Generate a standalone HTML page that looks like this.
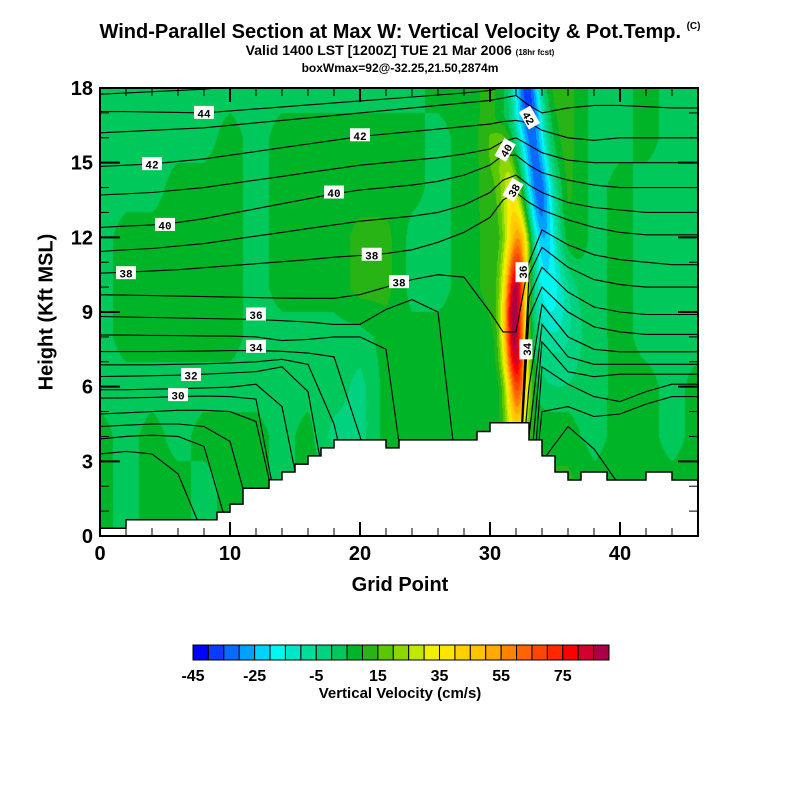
<!DOCTYPE html>
<html><head><meta charset="utf-8"><style>
body{margin:0;background:#fff;width:800px;height:800px;overflow:hidden;font-family:"Liberation Sans",sans-serif;}
#wrap{position:relative;width:800px;height:800px;}
.t{position:absolute;white-space:nowrap;color:#000;}
</style></head><body>
<div id="wrap">
<div class="t" style="left:0;width:800px;text-align:center;top:21px;font-size:20px;font-weight:bold;">Wind-Parallel Section at Max W: Vertical Velocity &amp; Pot.Temp. <span style="font-size:10px;vertical-align:top">(C)</span></div>
<div class="t" style="left:0;width:800px;text-align:center;top:42px;font-size:14px;font-weight:bold;">Valid 1400 LST [1200Z] TUE 21 Mar 2006 <span style="font-size:8px">(18hr fcst)</span></div>
<div class="t" style="left:0;width:800px;text-align:center;top:61px;font-size:12px;font-weight:bold;">boxWmax=92@-32.25,21.50,2874m</div>
<canvas id="field" width="598" height="448" style="position:absolute;left:100px;top:88px;"></canvas>
<svg id="svg" width="800" height="800" style="position:absolute;left:0;top:0;"></svg>
<div class="t" style="left:0;width:800px;text-align:center;top:574px;font-size:20px;font-weight:bold;">Grid Point</div>
<div class="t" style="left:47px;top:312px;font-size:20px;font-weight:bold;transform:translate(-50%,-50%) rotate(-90deg);">Height (Kft MSL)</div>
<div class="t" style="left:0;width:800px;text-align:center;top:685px;font-size:15px;font-weight:bold;">Vertical Velocity (cm/s)</div>
</div>
<script>
// ---------- data ----------
const bgXs = [0,2,4,6,8,10,12,14,16,18,20,22,24,26,28,30,32,34,36,38,40,42,44,46];
const bgZs = [0,2,4,6,8,10,12,14,16,18];
const L=3, D=7, T=-2, Y=12;
const bgRows = [
 [D,L,D,D,L,D,D,D,D,D,D,D,D,D,D,D,Y,Y,Y,D,D,D,D,D],
 [D,L,D,D,L,D,D,L,D,D,D,D,D,D,D,D,Y,Y,Y,D,D,D,D,D],
 [D,L,D,L,D,D,D,L,D,T,T,D,D,D,D,D,Y,D,D,L,D,D,L,D],
 [L,L,L,L,L,L,L,L,L,L,T,D,D,D,D,D,L,L,L,L,D,D,L,D],
 [L,D,D,D,D,D,L,L,L,L,L,D,D,D,D,D,L,L,L,L,D,L,L,L],
 [L,D,D,D,D,D,L,D,D,D,Y,Y,L,L,D,Y,L,L,L,L,D,L,L,L],
 [L,D,D,D,D,D,L,D,D,D,Y,Y,L,L,D,Y,L,L,Y,L,D,L,L,L],
 [L,L,L,D,D,D,L,D,D,D,D,D,D,L,D,Y,L,L,Y,L,D,L,L,L],
 [L,L,L,L,L,D,L,D,D,D,D,D,D,L,D,Y,L,Y,Y,L,L,D,L,L],
 [L,L,L,L,L,L,L,L,L,L,L,L,L,D,D,Y,L,Y,Y,L,L,D,L,L]
];
const upZ    = [4,5,6,7,8,9,10,11,12,13,14,15,16];
const upX    = [32.0,32.1,32.1,32.0,31.9,31.9,32.0,32.1,32.2,32.0,31.8,31.5,31.2];
const upPeak = [20,45,65,80,85,88,85,70,55,40,28,18,10];
const upW    = [0.6,0.6,0.62,0.65,0.65,0.65,0.65,0.68,0.7,0.72,0.75,0.8,0.85];
const dnZ    = [6,7,8,9,10,11,12,13,14,15,16,17,18];
const dnX    = [35.3,35.1,34.9,34.7,34.5,34.3,34.1,33.9,33.7,33.5,33.3,33.1,32.9];
const dnPeak = [-3,-6,-12,-18,-22,-25,-30,-35,-38,-40,-42,-45,-45];
const dnW    = [1.5,1.4,1.3,1.2,1.1,1.0,0.95,0.9,0.9,0.85,0.85,0.8,0.75];

const cXs = [0,2,4,6,8,10,12,14,16,18,20,22,24,26,28,30,31,32,33,34,36,38,40,42,44,46];
const th45=[17.75,17.8,17.85,17.9,17.95,18.05,18.15,18.25,18.35,18.45,18.55,18.65,18.75,18.85,18.95,19,19,19,19,19,19,19,19,19,19,19];
const th44=[17.05,17.05,17.03,17.02,17.0,17.08,17.16,17.24,17.32,17.4,17.48,17.56,17.64,17.72,17.8,17.9,18.05,18.2,18.3,18.3,18.5,19,19,19,19,19];
const th43=[16.2,16.25,16.3,16.35,16.4,16.5,16.6,16.7,16.8,16.9,17.0,17.1,17.2,17.3,17.4,17.5,17.6,17.7,17.3,17.0,17.2,17.3,17.3,17.25,17.2,17.2];
const th42=[14.85,14.9,14.95,15.05,15.15,15.3,15.45,15.6,15.75,15.9,16.05,16.15,16.25,16.35,16.45,16.55,16.65,16.7,16.6,16.3,16.0,15.9,16.0,16.0,16.0,16.0];
const th41=[13.7,13.75,13.8,13.9,14.0,14.15,14.3,14.45,14.6,14.75,14.9,15.0,15.1,15.2,15.35,15.55,15.85,16.0,15.7,15.4,15.1,15.0,15.0,15.0,15.0,15.0];
const th40=[12.4,12.45,12.5,12.6,12.75,12.95,13.15,13.35,13.55,13.75,13.9,14.0,14.1,14.25,14.5,14.9,15.3,15.3,14.9,14.6,14.3,14.1,14.0,14.0,14.0,14.0];
const th39=[11.43,11.5,11.55,11.65,11.75,11.9,12.05,12.2,12.35,12.5,12.65,12.75,12.85,13.0,13.3,13.8,14.3,14.5,14.1,13.8,13.4,13.2,13.1,13.0,13.0,13.0];
const th38=[10.56,10.6,10.65,10.7,10.78,10.86,10.94,11.02,11.1,11.2,11.27,11.35,11.5,11.8,12.2,12.8,13.5,13.8,13.4,13.1,12.7,12.4,12.2,12.1,12.1,12.1];
const th37=[9.69,9.68,9.66,9.64,9.62,9.6,9.58,9.56,9.55,9.55,9.7,10.0,10.3,10.5,10.4,9.0,8.2,8.2,11.0,12.3,11.7,11.3,11.1,11.0,10.9,10.9];
const th36=[8.82,8.8,8.78,8.76,8.74,8.72,8.7,8.65,8.6,8.5,8.5,9.1,9.5,9.0,0,0,0,0,10.5,11.6,10.8,10.3,10.1,10.0,10.0,10.0];
const th35=[8.08,8.07,8.06,8.05,8.04,8.03,8.0,7.85,7.9,8.0,8.0,7.5,0,0,0,0,0,0,9.6,10.8,9.8,9.2,9.0,8.9,8.9,8.9];
const th34=[7.41,7.41,7.41,7.42,7.43,7.45,7.45,7.42,7.35,7.2,4.0,0,0,0,0,0,0,0,8.8,10.0,9.0,8.4,8.2,8.1,8.1,8.1];
const th33=[6.88,6.88,6.88,6.9,6.92,6.95,7.0,7.1,6.9,4.5,0,0,0,0,0,0,0,0,6.0,9.3,8.0,7.5,7.4,7.4,7.4,7.4];
const th32=[6.41,6.42,6.44,6.46,6.5,6.55,6.6,6.8,5.8,0,0,0,0,0,0,0,0,0,4.0,8.5,7.2,6.9,6.9,6.9,6.9,6.9];
const th31=[5.88,5.88,5.9,5.92,5.95,5.98,6.1,5.2,0,0,0,0,0,0,0,0,0,0,2.0,7.8,6.6,6.4,6.5,6.5,6.5,6.5];
const th30=[5.54,5.55,5.57,5.6,5.62,5.6,5.5,0,0,0,0,0,0,0,0,0,0,0,0,6.8,6.1,5.6,5.4,5.8,6.1,6.1];
const th29=[4.9,4.95,5.0,5.05,5.05,5.0,4.6,0,0,0,0,0,0,0,0,0,0,0,0,5.0,5.2,4.8,4.9,5.3,5.6,5.6];
const th28=[4.4,4.45,4.5,4.5,4.4,3.8,0,0,0,0,0,0,0,0,0,0,0,0,0,3.0,4.4,3.5,2.0,0,0,0];
const th27=[3.9,4.0,4.05,4.0,3.6,0,0,0,0,0,0,0,0,0,0,0,0,0,0,0,0,0,0,0,0,0];
const th26=[3.3,3.4,3.3,2.5,0,0,0,0,0,0,0,0,0,0,0,0,0,0,0,0,0,0,0,0,0,0];
const thetaLines=[th45,th44,th43,th42,th41,th40,th39,th38,th37,th36,th35,th34,th33,th32,th31,th30,th29,th28,th27,th26];

const terrX = [0,2,9,10,11,13,14,15,16,17,18,22,23,29,30,33,34,35,36,37,39,42,44];
const terrH = [0.31,0.65,0.96,1.28,1.92,2.26,2.57,2.89,3.22,3.54,3.86,3.54,3.86,4.2,4.55,3.86,3.22,2.57,2.25,2.57,2.25,2.57,2.25];

const labelText=['44','42','42','40','40','38','38','38','36','34','32','30'];
const labelX   =[8,20,4,18,5,2,20.9,23,12,12,7,6];
const labelZ   =[17.0,16.1,14.94,13.8,12.5,10.56,11.3,10.2,8.9,7.6,6.47,5.66];
const rotText=['42','40','38','36','34'];
const rotX=[33.0,31.2,31.8,32.5,32.8];
const rotZ=[16.8,15.5,13.9,10.6,7.5];
const rotA=[60,-60,-60,-90,-90];

const cbColors=['#0000ff','#0a3cff','#0a6cff','#00a0ff','#00d2ff','#00f8f0','#00e6c8','#00dc9a','#00d280','#00c85a','#00b428','#28b414','#5ac800','#8cd700','#c0e800','#f0f000','#ffe600','#ffd000','#ffc400','#ffaa00','#ff8200','#ff6400','#ff4600','#ff2800','#ff0000','#d2002d','#aa0046'];
const cbMin=-45, cbStep=5;
const cbTicks=[-45,-25,-5,15,35,55,75];
const xTicks=[0,10,20,30,40];
const yTicks=[0,3,6,9,12,15,18];

// ---------- scales ----------
const PX0=100,PX1=698,PY0=88,PY1=536,XMAX=46,ZMAX=18;
const sx=x=>PX0+x/XMAX*(PX1-PX0);
const sy=z=>PY1-z/ZMAX*(PY1-PY0);

function interp(arrX,arrV,x){
  if(x<=arrX[0])return arrV[0];
  for(let i=1;i<arrX.length;i++){ if(x<=arrX[i]){const t=(x-arrX[i-1])/(arrX[i]-arrX[i-1]);return arrV[i-1]+t*(arrV[i]-arrV[i-1]);} }
  return arrV[arrV.length-1];
}
function fade(arrZ,z){const a=arrZ[0],b=arrZ[arrZ.length-1];if(z<a)return Math.max(0,1-(a-z)/0.8);if(z>b)return Math.max(0,1-(z-b)/0.8);return 1;}
function bgVal(x,z){
  const ci=Math.min(bgXs.length-2,Math.max(0,Math.floor(x/2))),ri=Math.min(bgZs.length-2,Math.max(0,Math.floor(z/2)));
  const tx=Math.min(1,Math.max(0,(x-bgXs[ci])/2)),tz=Math.min(1,Math.max(0,(z-bgZs[ri])/2));
  const a=bgRows[ri][ci],b=bgRows[ri][ci+1],c=bgRows[ri+1][ci],d=bgRows[ri+1][ci+1];
  return (a*(1-tx)+b*tx)*(1-tz)+(c*(1-tx)+d*tx)*tz;
}
function wVal(x,z){
  let w=bgVal(x,z);
  const uc=interp(upZ,upX,z),up=interp(upZ,upPeak,z)*fade(upZ,z),uw=interp(upZ,upW,z);
  w+=up*Math.exp(-((x-uc)*(x-uc))/(2*uw*uw));
  const dc=interp(dnZ,dnX,z),dp=interp(dnZ,dnPeak,z)*fade(dnZ,z),dw=interp(dnZ,dnW,z);
  w+=dp*Math.exp(-((x-dc)*(x-dc))/(2*dw*dw));
  return w;
}
function hex(c){return [parseInt(c.substr(1,2),16),parseInt(c.substr(3,2),16),parseInt(c.substr(5,2),16)];}
const cbRGB=cbColors.map(hex);

// ---------- field ----------
const cv=document.getElementById('field'),ctx=cv.getContext('2d');
const W=cv.width,H=cv.height,img=ctx.createImageData(W,H);
for(let py=0;py<H;py++){for(let px=0;px<W;px++){
  const x=(px+0.5)/W*XMAX,z=(H-py-0.5)/H*ZMAX;
  let k=Math.floor((wVal(x,z)-cbMin)/cbStep);k=Math.max(0,Math.min(cbRGB.length-1,k));
  const c=cbRGB[k],o=(py*W+px)*4;img.data[o]=c[0];img.data[o+1]=c[1];img.data[o+2]=c[2];img.data[o+3]=255;
}}
ctx.putImageData(img,0,0);

// ---------- svg ----------
const NS='http://www.w3.org/2000/svg',svg=document.getElementById('svg');
function el(tag,attrs,parent){const e=document.createElementNS(NS,tag);for(const k in attrs)e.setAttribute(k,attrs[k]);(parent||svg).appendChild(e);return e;}
const defs=el('defs',{});
const cp=el('clipPath',{id:'clip'},defs);el('rect',{x:PX0,y:PY0,width:PX1-PX0,height:PY1-PY0},cp);
const gC=el('g',{'clip-path':'url(#clip)'});


thetaLines.forEach((arr,i)=>{
  const d=arr.map((z,j)=>(j?'L':'M')+sx(cXs[j]).toFixed(1)+','+sy(Math.max(-1,Math.min(19.5,z))).toFixed(1)).join('');
  const p=el('path',{d:d,fill:'none',stroke:'#000','stroke-width':1.1},gC);
  
  
});
// terrain
let td='M'+sx(0)+','+sy(0);
for(let i=0;i<terrX.length;i++){const x0=terrX[i],x1=(i+1<terrX.length)?terrX[i+1]:XMAX;td+='L'+sx(x0).toFixed(1)+','+sy(terrH[i]).toFixed(1)+'L'+sx(x1).toFixed(1)+','+sy(terrH[i]).toFixed(1);}
td+='L'+sx(XMAX)+','+sy(0)+'Z';
const terr=el('path',{d:td,fill:'#fff',stroke:'#000','stroke-width':1.5},gC);


// contour labels
labelText.forEach((t,i)=>{
  const g=el('g',{transform:'translate('+sx(labelX[i])+','+sy(labelZ[i])+')'});
  
  
  el('rect',{x:-10,y:-7,width:20,height:13,fill:'#fff'},g);
  const tx=el('text',{x:0,y:4.5,'text-anchor':'middle','font-size':11,'font-family':'Liberation Mono, monospace','font-weight':'bold'},g);tx.textContent=t;
});
rotText.forEach((t,i)=>{
  const g=el('g',{transform:'translate('+sx(rotX[i])+','+sy(rotZ[i])+') rotate('+rotA[i]+')'});
  
  
  el('rect',{x:-10,y:-7,width:20,height:13,fill:'#fff'},g);
  const tx=el('text',{x:0,y:4.5,'text-anchor':'middle','font-size':11,'font-family':'Liberation Mono, monospace','font-weight':'bold'},g);tx.textContent=t;
});
// frame
const fr=el('rect',{x:PX0,y:PY0,width:PX1-PX0,height:PY1-PY0,fill:'none',stroke:'#000','stroke-width':2});


// ticks
for(let x=0;x<=XMAX;x+=2){const maj=x%10===0,l=maj?14:8;
  el('line',{x1:sx(x),x2:sx(x),y1:PY1,y2:PY1-l,stroke:'#000','stroke-width':maj?2:1});
  el('line',{x1:sx(x),x2:sx(x),y1:PY0,y2:PY0+l,stroke:'#000','stroke-width':maj?2:1});}
for(let z=0;z<=ZMAX;z+=1){const maj=z%3===0,l=maj?20:9;
  el('line',{x1:PX0,x2:PX0+l,y1:sy(z),y2:sy(z),stroke:'#000','stroke-width':maj?2:1});
  el('line',{x1:PX1,x2:PX1-l,y1:sy(z),y2:sy(z),stroke:'#000','stroke-width':maj?2:1});}
xTicks.forEach(v=>{const t=el('text',{x:sx(v),y:PY1+24,'text-anchor':'middle','font-size':20,'font-weight':'bold','font-family':'Liberation Sans, sans-serif'});t.textContent=v;
  
  });
yTicks.forEach(v=>{const t=el('text',{x:PX0-7,y:sy(v)+7,'text-anchor':'end','font-size':20,'font-weight':'bold','font-family':'Liberation Sans, sans-serif'});t.textContent=v;
  
  });
// colorbar
const CB0=193,CB1=609,CBY=645,CBH=15,bw=(CB1-CB0)/cbColors.length;
cbColors.forEach((c,i)=>{const r=el('rect',{x:CB0+i*bw,y:CBY,width:bw,height:CBH,fill:c,stroke:'#000','stroke-width':1});
  
  });
cbTicks.forEach(v=>{const t=el('text',{x:CB0+(v-cbMin)/cbStep*bw,y:681,'text-anchor':'middle','font-size':16,'font-weight':'bold','font-family':'Liberation Sans, sans-serif'});t.textContent=v;
  
  });
</script>
</body></html>
